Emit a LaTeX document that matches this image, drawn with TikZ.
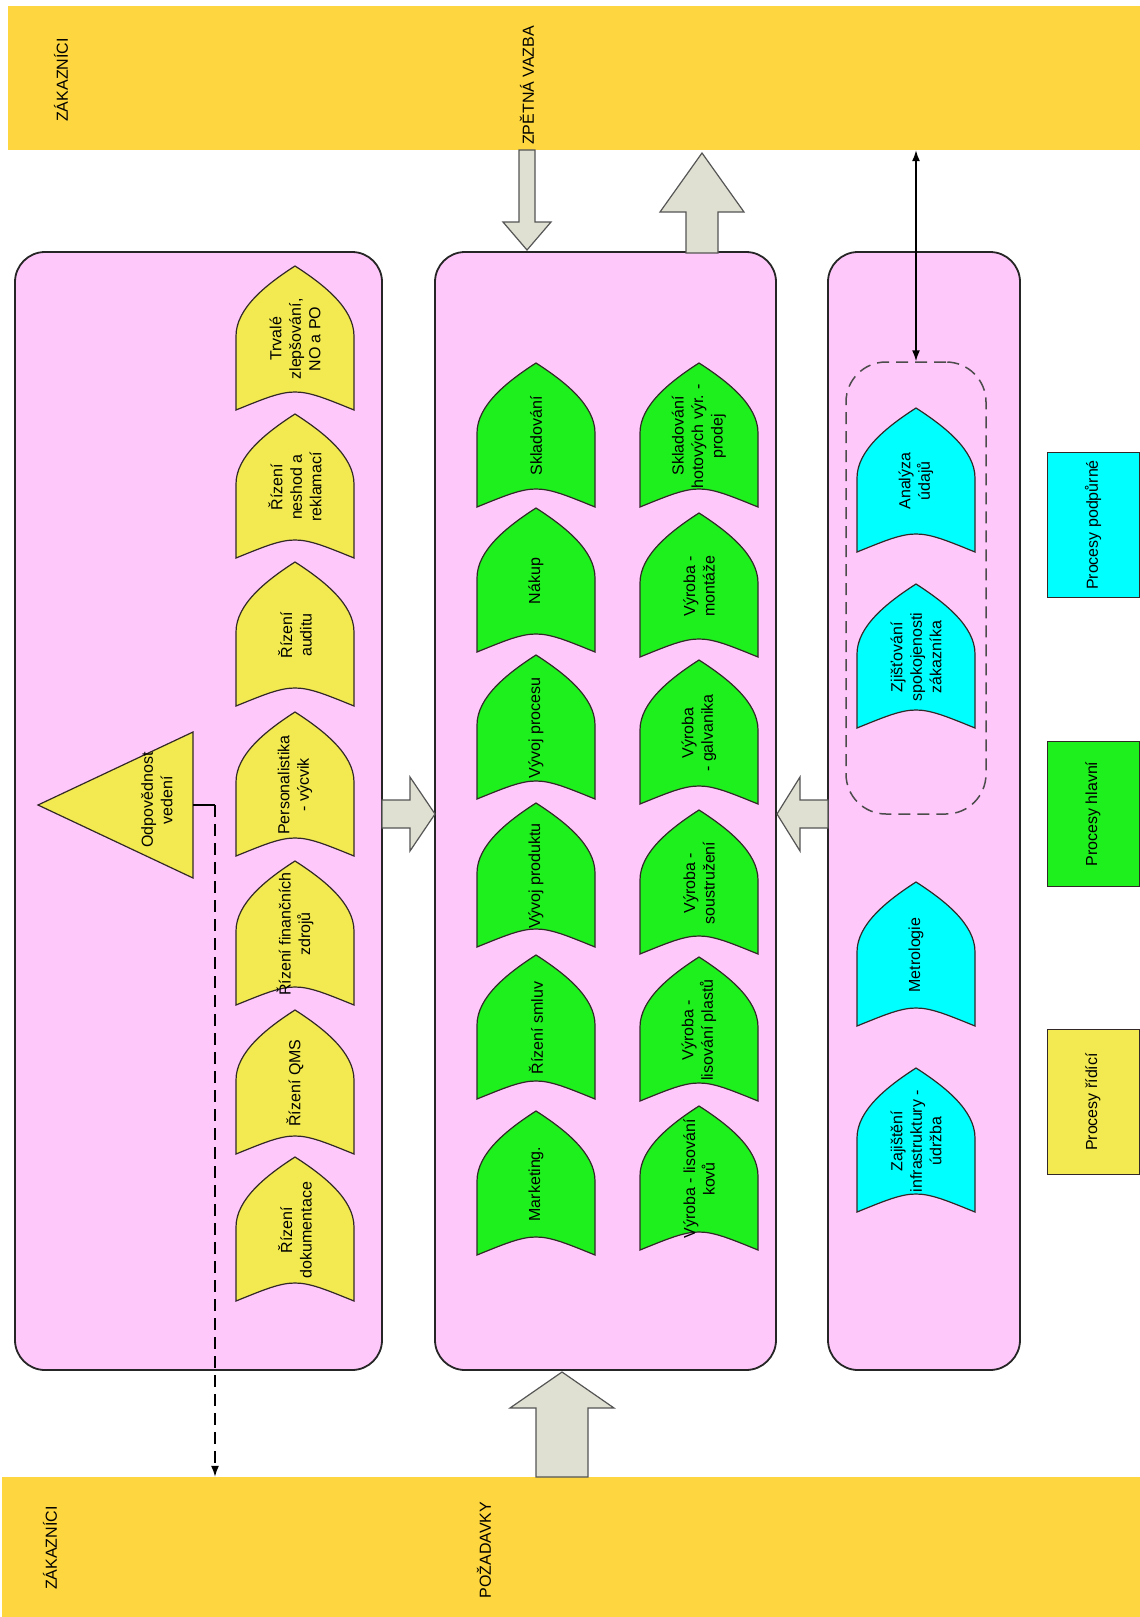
\documentclass[tikz,border=0pt]{standalone}
\usepackage{fontspec}
\setmainfont{Liberation Sans}
\usetikzlibrary{arrows.meta}
\definecolor{pinkbg}{RGB}{255,200,250}
\definecolor{bandc}{RGB}{253,214,64}
\definecolor{yel}{RGB}{242,234,80}
\definecolor{grn}{RGB}{30,240,30}
\definecolor{cyn}{RGB}{0,255,255}
\definecolor{arrfill}{RGB}{224,224,210}
\definecolor{arrline}{RGB}{85,85,85}
\definecolor{outl}{RGB}{50,40,40}
\newcommand\procshape[5]{%
  \draw[shp,fill=#4] ({#2-59},{#3+144}) -- ({#2-59},{#3+70})
    .. controls ({#2-59},{#3+42}) and ({#2-28},{#3+18}) .. ({#2},{#3})
    .. controls ({#2+28},{#3+18}) and ({#2+59},{#3+42}) .. ({#2+59},{#3+70})
    -- ({#2+59},{#3+144}) .. controls ({#2},{#3+120}) .. ({#2-59},{#3+144}) -- cycle;
  \node[lbl] (#1) at ({#2},{#3+73}) {#5};}
\begin{document}
\begin{tikzpicture}[x=1pt,y=-1pt,
  txt/.style={font=\fontsize{16}{19.5}\selectfont},
  lbl/.style={txt,rotate=90,align=center,inner sep=0pt},
  shp/.style={draw=outl,line width=1.2pt},
  pinkbox/.style={draw=black!85,line width=1.8pt,fill=pinkbg,rounded corners=30pt,inner sep=0pt},
  band/.style={fill=bandc,inner sep=0pt},
  blockarr/.style={draw=arrline,fill=arrfill,line width=1.2pt},
  legend/.style={txt,draw=outl,line width=1pt,rotate=90,inner sep=0pt},
  dashline/.style={line width=1.5pt,dash pattern=on 12pt off 7pt}]
\useasboundingbox (0,0) rectangle (1140,1617);
\fill[white] (0,0) rectangle (1140,1617);
% bands
\node[band,minimum width=1132pt,minimum height=144pt] (bandT) at (574,78) {};
\node[band,minimum width=1138pt,minimum height=140pt] (bandB) at (571,1547) {};
\node[lbl] (zakT) at (61,80) {ZÁKAZNÍCI};
\node[lbl,anchor=west] (zpet) at (527,145) {ZPĚTNÁ VAZBA};
\node[lbl] (zakB) at (50,1548) {ZÁKAZNÍCI};
\node[lbl] (pozad) at (484,1550) {POŽADAVKY};
% pink boxes
\node[pinkbox,minimum width=367pt,minimum height=1118pt] (boxL) at (198.5,811) {};
\node[pinkbox,minimum width=341pt,minimum height=1118pt] (boxM) at (605.5,811) {};
\node[pinkbox,minimum width=192pt,minimum height=1118pt] (boxR) at (924,811) {};
% block arrows
\draw[blockarr] (382,800) -- (410,800) -- (410,777) -- (435,814) -- (410,851) -- (410,828) -- (382,828) -- cycle;
\draw[blockarr] (828,800) -- (800,800) -- (800,777) -- (777,814) -- (800,851) -- (800,828) -- (828,828) -- cycle;
\draw[blockarr] (519,150) -- (535,150) -- (535,222) -- (551,222) -- (527,250) -- (503,222) -- (519,222) -- cycle;
\draw[blockarr] (686,253) -- (686,212) -- (660,212) -- (702,153) -- (744,212) -- (718,212) -- (718,253) -- cycle;
\draw[blockarr] (536,1477) -- (536,1408) -- (510,1408) -- (562,1372) -- (614,1408) -- (588,1408) -- (588,1477) -- cycle;
% left column (yellow)
\procshape{y1}{295}{266}{yel}{Trvalé\\zlepšování,\\NO a PO}
\procshape{y2}{295}{414}{yel}{Řízení\\neshod a\\reklamací}
\procshape{y3}{295}{562}{yel}{Řízení\\auditu}
\procshape{y4}{295}{712}{yel}{Personalistika\\- výcvik}
\procshape{y5}{295}{861}{yel}{Řízení finančních\\zdrojů}
\procshape{y6}{295}{1010}{yel}{Řízení QMS}
\procshape{y7}{295}{1157}{yel}{Řízení\\dokumentace}
% triangle
\draw[shp,fill=yel] (38,805) -- (193,732) -- (193,878) -- cycle;
\node[lbl] (odp) at (157,800) {Odpovědnost\\vedení};
\coordinate (odpR) at (193,805);
\coordinate (odpB) at (215,805);
\draw[line width=1.5pt] (odpR) -- (odpB);
\draw[dashline,-{Latex[length=11pt,width=8pt]}] (odpB) -- (odpB |- bandB.north);
% middle (green)
\procshape{g1}{536}{363}{grn}{Skladování}
\procshape{g2}{536}{508}{grn}{Nákup}
\procshape{g3}{536}{655}{grn}{Vývoj procesu}
\procshape{g4}{536}{803}{grn}{Vývoj produktu}
\procshape{g5}{536}{955}{grn}{Řízení smluv}
\procshape{g6}{536}{1111}{grn}{Marketing.}
\procshape{h1}{699}{363}{grn}{Skladování\\hotových výr. -\\prodej}
\procshape{h2}{699}{513}{grn}{Výroba -\\montáže}
\procshape{h3}{699}{660}{grn}{Výroba\\- galvanika}
\procshape{h4}{699}{810}{grn}{Výroba -\\soustružení}
\procshape{h5}{699}{957}{grn}{Výroba -\\lisování plastů}
\procshape{h6}{699}{1106}{grn}{Výroba - lisování\\kovů}
% right (cyan)
\node[draw=black!70,dashline,rounded corners=40pt,minimum width=140pt,minimum height=452pt,inner sep=0pt] (dashbox) at (916,588) {};
\procshape{c1}{916}{408}{cyn}{Analýza\\údajů}
\procshape{c2}{916}{584}{cyn}{Zjišťování\\spokojenosti\\zákazníka}
\procshape{c3}{916}{882}{cyn}{Metrologie}
\procshape{c4}{916}{1068}{cyn}{Zajištění\\infrastruktury -\\údržba}
\draw[line width=1.5pt,{Latex[length=11pt,width=8pt]}-{Latex[length=11pt,width=8pt]}] (dashbox.north |- bandT.south) -- (dashbox.north);
% legend
\node[legend,fill=cyn,minimum width=145pt,minimum height=92pt] (legS) at (1093,525) {Procesy podpůrné};
\node[legend,fill=grn,minimum width=145pt,minimum height=92pt] (legH) at (1093,814) {Procesy hlavní};
\node[legend,fill=yel,minimum width=145pt,minimum height=92pt] (legR) at (1093,1102) {Procesy řídící};
\end{tikzpicture}
\end{document}
